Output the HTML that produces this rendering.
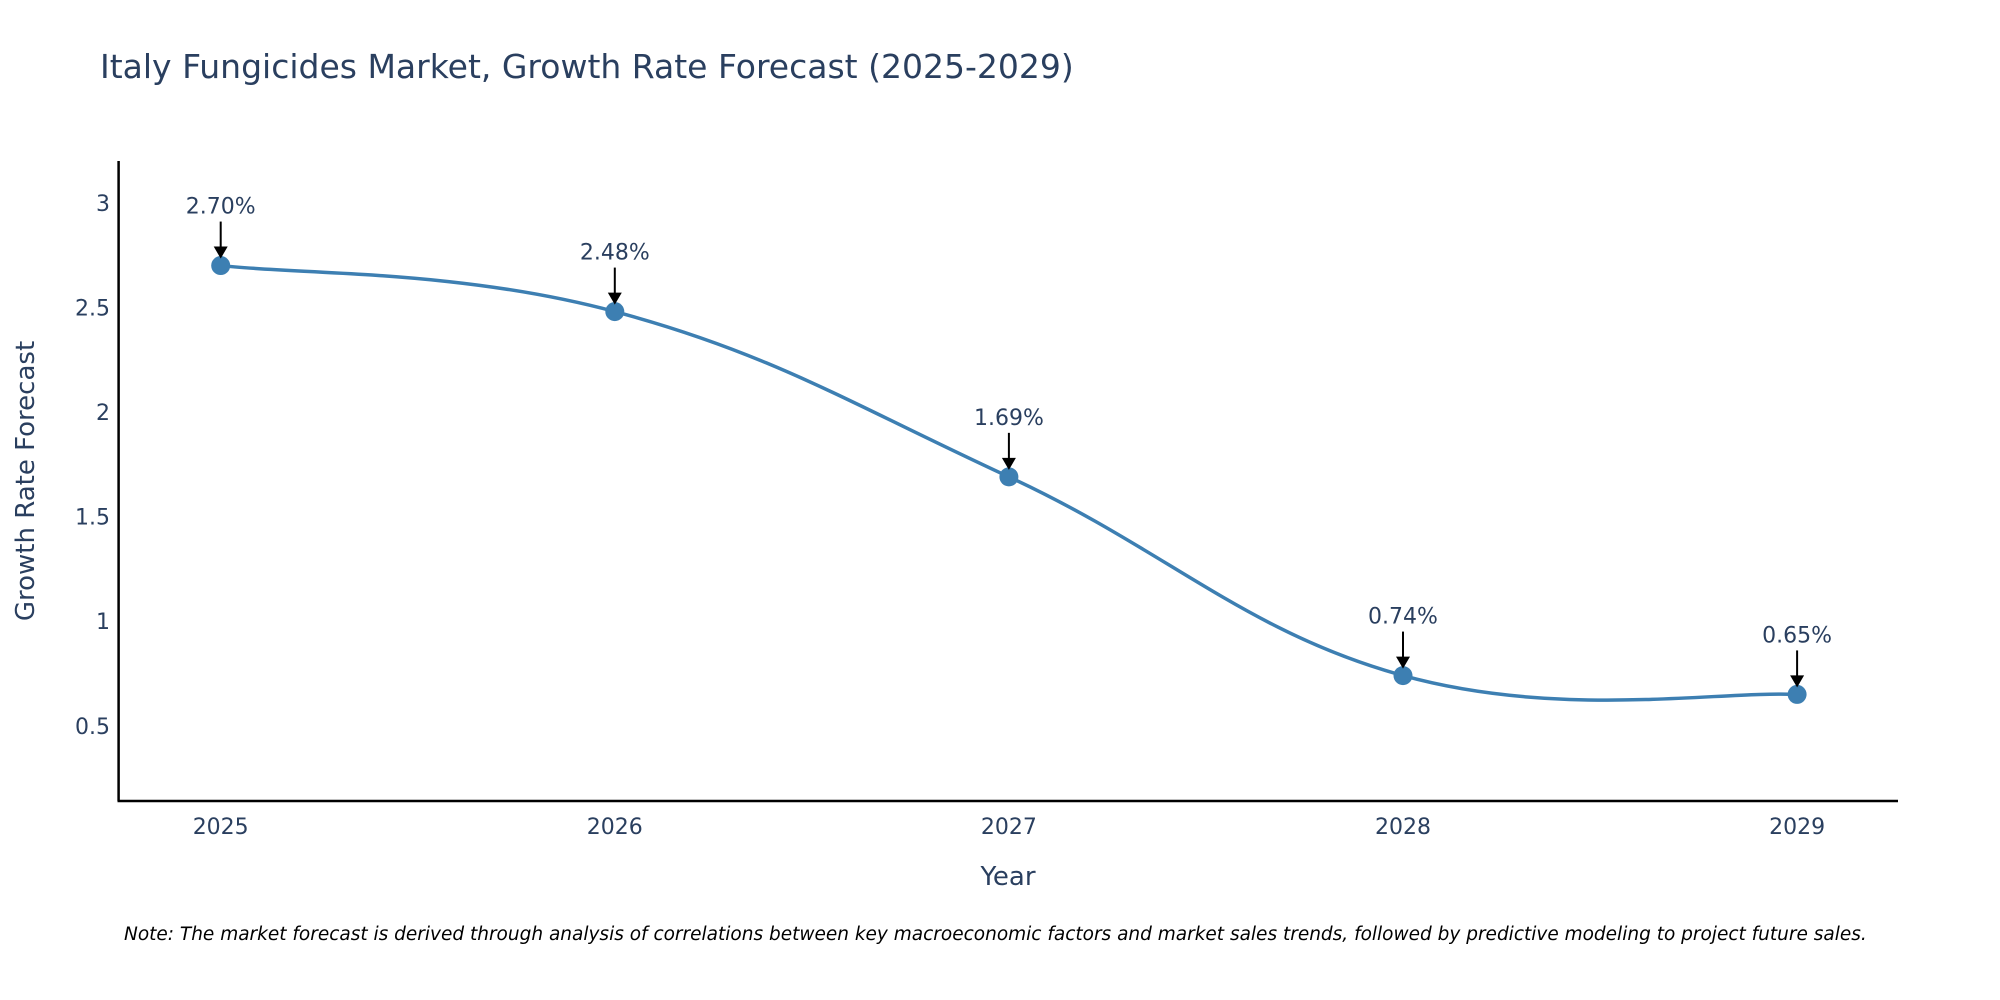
<!DOCTYPE html>
<html><head><meta charset="utf-8"><style>
body{margin:0;background:#fff;}
svg{display:block;font-family:"DejaVu Sans","Liberation Sans",sans-serif;}
</style></head><body>
<svg id="chart" width="2000" height="1000" viewBox="0 0 2000 1000">
<text x="100" y="78" font-size="33" fill="#2a3f5f">Italy Fungicides Market, Growth Rate Forecast (2025-2029)</text>
<g id="yticks"></g>
<g id="xticks"></g>
<line x1="118.6" y1="161" x2="118.6" y2="801" stroke="#000" stroke-width="2.5"/>
<line x1="117.5" y1="801" x2="1898" y2="801" stroke="#000" stroke-width="2.5"/>
<path id="line" fill="none" stroke="#3d7fb2" stroke-width="3.5"/>
<g id="points"></g>
<g id="annots"></g>
<text x="1008" y="885" font-size="26" fill="#2a3f5f" text-anchor="middle">Year</text>
<text transform="translate(34,481) rotate(-90)" font-size="26" fill="#2a3f5f" text-anchor="middle">Growth Rate Forecast</text>
<text x="124" y="940" font-size="18.5" font-style="italic" fill="#000">Note: The market forecast is derived through analysis of correlations between key macroeconomic factors and market sales trends, followed by predictive modeling to project future sales.</text>
</svg>
<script>
const years = [2025, 2026, 2027, 2028, 2029];
const values = [2.70, 2.48, 1.69, 0.74, 0.65];
const labels = ["2.70%", "2.48%", "1.69%", "0.74%", "0.65%"];
const yTickVals = [0.5, 1, 1.5, 2, 2.5, 3];
const yTickLabels = ["0.5", "1", "1.5", "2", "2.5", "3"];

const NS = "http://www.w3.org/2000/svg";
const xs = v => 220.7 + (v - 2025) * 394.1;
const ys = v => 725.8 - (v - 0.5) * 209.2;
function mk(tag, attrs, parent, txt){const e=document.createElementNS(NS,tag);for(const k in attrs)e.setAttribute(k,attrs[k]);if(txt!==undefined)e.textContent=txt;parent.appendChild(e);return e;}

const yt=document.getElementById('yticks');
yTickVals.forEach((v,i)=>{
  const t=mk('text',{x:110,y:ys(v)+8,'font-size':22,fill:'#2a3f5f','text-anchor':'end'},yt,yTickLabels[i]);
  
  
});
const xt=document.getElementById('xticks');
years.forEach(y=>{
  const t=mk('text',{x:xs(y),y:834,'font-size':22,fill:'#2a3f5f','text-anchor':'middle'},xt,String(y));
  
  
});

const P=years.map((y,i)=>[xs(y),ys(values[i])]);
let d=`M${P[0][0]},${P[0][1]}`;
const s=0.2;
for(let i=0;i<P.length-1;i++){
  const p0=P[Math.max(i-1,0)],p1=P[i],p2=P[i+1],p3=P[Math.min(i+2,P.length-1)];
  const c1=[p1[0]+(p2[0]-p0[0])*s,p1[1]+(p2[1]-p0[1])*s];
  const c2=[p2[0]-(p3[0]-p1[0])*s,p2[1]-(p3[1]-p1[1])*s];
  d+=` C${c1[0]},${c1[1]} ${c2[0]},${c2[1]} ${p2[0]},${p2[1]}`;
}
document.getElementById('line').setAttribute('d',d);

const pts=document.getElementById('points');
const an=document.getElementById('annots');
P.forEach((p,i)=>{
  const c=mk('circle',{cx:p[0],cy:p[1],r:9.5,fill:'#3d7fb2'},pts);
  
  
  const l=mk('line',{x1:p[0],y1:p[1]-44,x2:p[0],y2:p[1]-16,stroke:'#000','stroke-width':2},an);
  
  
  const h=mk('path',{d:`M${p[0]-7},${p[1]-19} L${p[0]+7},${p[1]-19} L${p[0]},${p[1]-7} Z`,fill:'#000'},an);
  
  
  const t=mk('text',{x:p[0],y:p[1]-52,'font-size':22,fill:'#2a3f5f','text-anchor':'middle'},an,labels[i]);
  
  
});
</script>
</body></html>
